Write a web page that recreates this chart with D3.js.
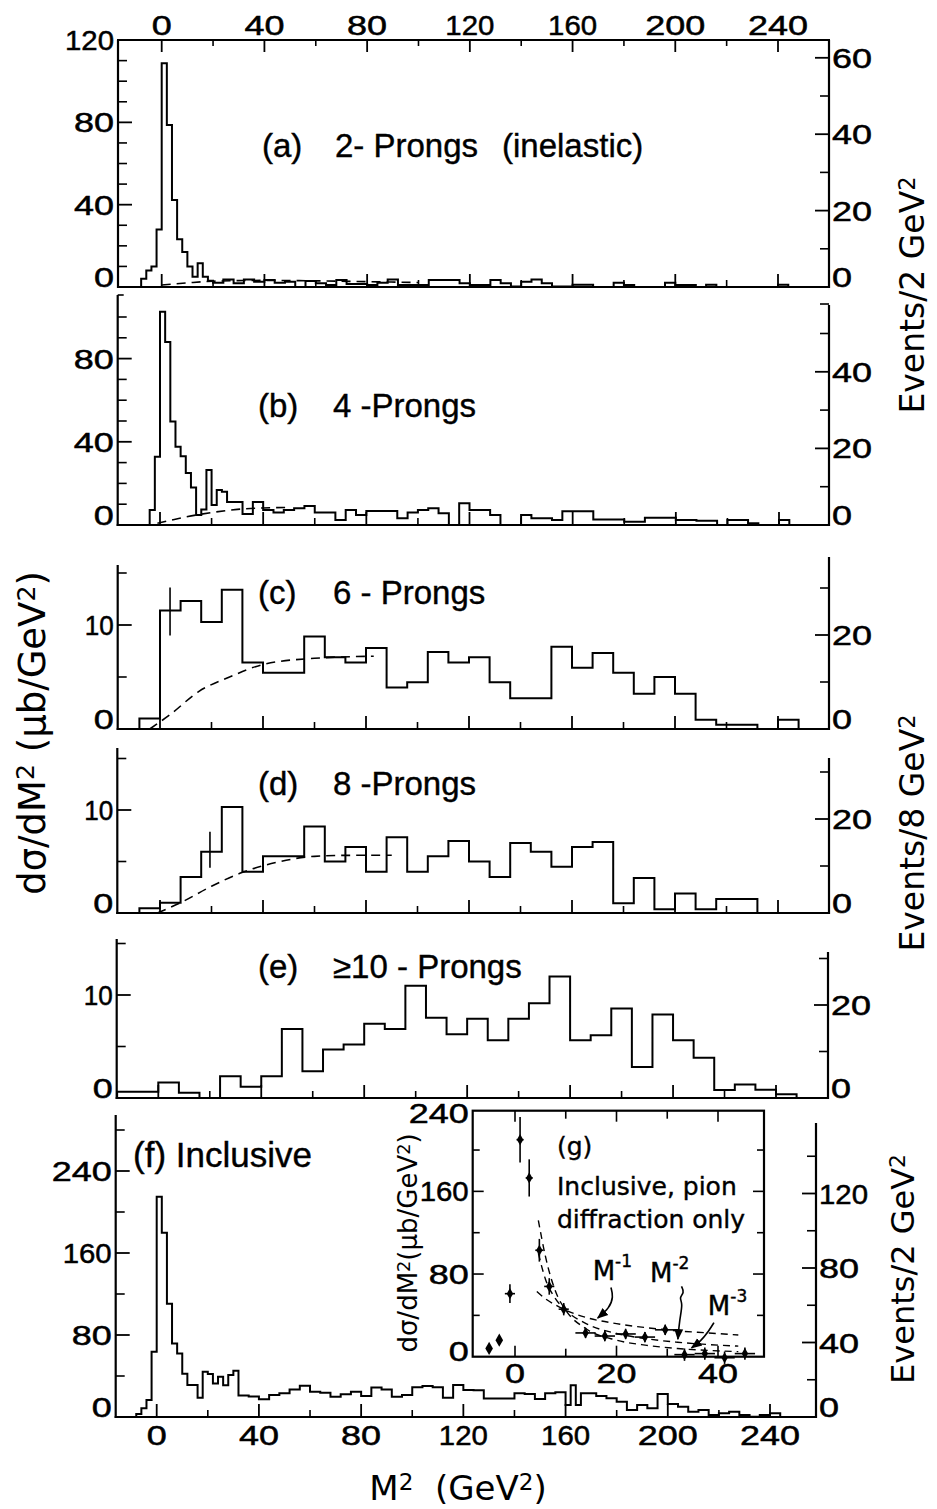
<!DOCTYPE html>
<html><head><meta charset="utf-8">
<script src="https://cdn.jsdelivr.net/npm/d3@7/dist/d3.min.js"></script>
<style>
html,body{margin:0;padding:0;background:#fff;}
svg{display:block;}
</style></head>
<body><svg id="chart" width="937" height="1509" viewBox="0 0 937 1509"></svg>
<script>
// ---------------- DATA ----------------
const xMajorTicks = [0, 40, 80, 120, 160, 200, 240];
const xMinorTicks = [20, 60, 100, 140, 180, 220];

// (a) 2-prongs (inelastic): bin edges (GeV^2) and dσ/dM² (μb/GeV²)
const aEdges = [-8,-6,-4,-2,0,2,4,6,8,10,12,14,16,18,20,24,28,32,36,40,44,48,52,56,60,64,68,72,80,84,88,92,104,116,120,128,132,136,140,144,148,152,160,168,176,180,184,196,200,208,212,216,240,244];
const aVals  = [4,8,10,28,108.7,78.7,42.3,23.2,17,10,5,11.5,5,3,2.1,3.7,1.8,3.7,2.6,3.4,2.1,2.6,0,2.9,1.8,1.0,3.4,1.5,1.0,2.1,3.7,1.0,3.4,1.8,1.0,3.4,1.8,0.3,2.6,3.7,1.8,0.3,1.1,0,2.1,1.0,0,2.1,1.0,0,1.1,0,1.1];
const aCurveX = [0, 10, 20, 40, 60, 80, 100];
const aCurveY = [1, 2, 2.8, 3.2, 3.0, 2.6, 2.2];

// (b) 4-prongs
const bEdges = [-4,-2,0,2,4,6,8,10,12,14,16,18,20,22,24,26,32,36,40,44,48,52,56,60,68,72,76,80,92,96,100,104,108,112,116,120,128,132,140,144,152,156,168,180,188,200,208,216,220,228,232,240,244];
const bVals  = [7.2,32.8,102.5,88,49.7,37.6,33,25,18,4.8,7.5,26.4,9.6,16.8,16,11,5.3,11,7.2,6,7.2,8,9.1,6,2.4,7.2,4.8,6.7,3.2,6,7.2,8,5.6,0,10.4,7.2,4.8,0,4.8,3.2,2.4,6.6,2.7,1.6,3.5,2.4,2.1,0,2.4,0.8,0,2.4];
const bCurveX = [-1, 5, 14, 20, 30, 40, 50];
const bCurveY = [0.8, 2.5, 4.8, 6.0, 7.5, 8.2, 8.4];

// (c) 6-prongs
const cEdges = [-8,0,8,16,24,32,40,48,56,64,72,80,88,96,104,112,120,128,136,144,152,160,168,176,184,192,200,208,216,224,232,240,248];
const cVals  = [1.0,11.4,12.3,10.3,13.4,6.4,5.4,5.4,8.9,6.9,6.4,7.8,4.0,4.5,7.4,6.4,6.9,4.5,2.95,2.95,7.9,5.9,7.3,5.4,3.4,5.0,3.4,0.9,0.4,0.4,0,0.9];
const cCurveX = [-4, 4, 15, 27, 40, 60, 83];
const cCurveY = [0, 1.4, 3.6, 5.0, 6.2, 6.8, 7.0];
const cErrX = [3.9], cErrLo = [9.0], cErrHi = [13.6];

// (d) 8-prongs
const dEdges = [-8,0,8,16,24,32,40,48,56,64,72,80,88,96,104,112,120,128,136,144,152,160,168,176,184,192,200,208,216,224,232];
const dVals  = [0.45,1.0,3.5,5.95,10.3,4.0,5.5,5.5,8.4,5.0,6.4,4.0,7.35,4.0,5.5,7.0,5.0,3.5,6.8,5.95,4.5,6.4,6.9,0.94,3.4,0.36,1.9,0.36,1.36,1.36];
const dCurveX = [-1, 8, 20, 31, 45, 60, 75, 90];
const dCurveY = [0, 1.0, 2.6, 3.85, 4.9, 5.5, 5.6, 5.6];
const dErrX = [19.4], dErrLo = [4.4], dErrHi = [7.9];

// (e) >=10-prongs
const eEdges = [-16,0,8,16,24,32,40,48,56,64,72,80,88,96,104,112,120,128,136,144,152,160,168,176,184,192,200,208,216,224,232,240,248];
const eVals  = [0.6,1.5,0.5,0,2.1,1.1,2.1,6.7,2.6,4.7,5.2,7.2,6.7,10.9,7.8,6.2,7.7,5.6,7.7,9.2,11.8,5.6,6.1,8.7,3.0,8.1,5.6,3.9,0.78,1.3,0.8,0.36];

// (f) inclusive
const fEdges = [-8,-6,-4,-2,0,2,4,6,8,10,12,14,16,18,20,22,24,26,28,30,32,
  36,40,44,48,52,56,60,64,68,72,76,80,84,88,92,96,100,104,108,112,116,120,124,128,
  140,144,148,152,156,160,162,164,166,172,176,180,184,188,192,196,200,204,208,212,216,220,224,228,232,236,240,244];
const fVals  = [3,8.5,16.6,63.7,214.9,179.8,110.6,71.6,61.9,42.3,31.2,31.2,18.9,44.2,42,32.8,39.3,31,41,45.2,
  21,20,17.2,21.5,23.1,26.9,30.6,24.7,23.7,19.8,22.2,24.7,20.5,28.9,26.9,19.8,21.5,29,30.2,29,18.9,31.2,26.3,26,
  18,23.1,22.4,17.6,23.1,24.1,11.7,31,11.7,23.1,20.5,18.2,15,6.8,11.7,8.5,22.4,12.7,10.1,5.2,6.8,2,3.6,5.2,2,0.3,2,3.6];

// (g) inset: inclusive, pion diffraction only
const gX    = [-5.1,-3.1,-1.0,1.0,2.8,4.8,6.75,9.6,13.9,17.7,21.8,25.6,29.6,33.4,37.4,41.3,45.3];
const gY    = [8,16,61,210,173,103,68,46,23,20,22,19,26,2,3,-1,3];
const gYerr = [0,0,9,22,18,11,8,6,5,5,5,5,5,6,6,6,6];
const gXerr = [0,0,1,0.7,0.7,0.8,1,1,2,2,2,2,2,2,2,2,2];
const gM1X = [4.3,6,8,10,14,20,26,32,38,44];
const gM1Y = [63,56,50,45,38,32,28,25,23,21];
const gM2X = [4.6,6,8,10,14,20,26,32,38,44];
const gM2Y = [100,75,56,45,32,22.5,17.3,14,11.8,10.2];
const gM3X = [4.6,6,8,10,14,20,26,32,38,44];
const gM3Y = [132,97,63,45,27,16,11,7.9,6.1,4.9];
const gXTicks = [0,10,20,30,40];
const gXLabels = [0,20,40];
const gYTicks = [0,40,80,120,160,200,240];
const gYLabels = [0,80,160,240];

// ---------------- DRAWING ----------------
const svg = d3.select('#chart');
svg.append('rect').attr('width',937).attr('height',1509).attr('fill','#fff');
const NUMFONT = '"Liberation Sans", Arial, sans-serif';
const TXTFONT = '"DejaVu Sans", sans-serif';

function numWidth(s){ let w=0; for(const ch of String(s)) w += (ch==='1'?9:20); return w; }
function numText(g, x, y, s, anchor, size){
  const t = g.append('text').attr('x',x).attr('y',y).text(s)
    .attr('font-family',NUMFONT).attr('font-size',size||28).attr('text-anchor',anchor||'middle')
    .attr('fill','#000').attr('stroke','#000').attr('stroke-width',0.5);
  t.attr('textLength', numWidth(s)).attr('lengthAdjust','spacingAndGlyphs');
  return t;
}
function ln(g,x1,y1,x2,y2,w){ return g.append('line').attr('x1',x1).attr('y1',y1).attr('x2',x2).attr('y2',y2).attr('stroke','#000').attr('stroke-width',w||2); }
// rich text: parts = array of [string, isSuperscript]
function rich(t, parts){
  let up = false;
  parts.forEach(([s, sup])=>{
    const ts = t.append('tspan').text(s);
    if(sup && !up){ ts.attr('dy','-0.42em').attr('font-size','0.68em'); up = true; }
    else if(sup){ ts.attr('font-size','0.68em'); }
    else if(!sup && up){ ts.attr('dy','0.29em'); up = false; }
  });
  return t;
}

const layout = {
  a:{topL:40,topR:40,bottom:287,left:118,right:829,x0:161.7,x240:778,kL:2.058,kR:3.82,
     lMaj:[0,40,80,120],lMin:[10,20,30,50,60,70,90,100,110],rMaj:[0,20,40,60],rMin:[10,30,50],fs:28},
  b:{topL:295,topR:305,bottom:525,left:117.7,right:829,x0:160,x240:779,kL:2.08,kR:3.83,
     lMaj:[0,40,80],lMin:[10,20,30,50,60,70,90,100,110],rMaj:[0,20,40],rMin:[10,30,50,57.7],fs:28},
  c:{topL:565,topR:557,bottom:729,left:117.7,right:829,x0:160,x240:778,kL:10.4,kR:4.7,
     lMaj:[0,10],lMin:[5,15],rMaj:[0,20],rMin:[10,30],fs:28},
  d:{topL:748,topR:758,bottom:913,left:117.3,right:829,x0:160,x240:778,kL:10.3,kR:4.7,
     lMaj:[0,10],lMin:[5,15],rMaj:[0,20],rMin:[10,30],fs:27},
  e:{topL:939,topR:952,bottom:1098,left:116.7,right:828,x0:158.3,x240:776,kL:10.3,kR:4.65,
     lMaj:[0,10],lMin:[5,15],rMaj:[0,20],rMin:[10,30],fs:27},
  f:{topL:1115,topR:1123,bottom:1417,left:115.7,right:816,x0:156.7,x240:770,kL:1.025,kR:1.8625,
     lMaj:[0,80,160,240],lMin:[40,120,200,280],rMaj:[0,40,80,120],rMin:[20,60,100,140],fs:28}
};

function drawPanel(L, edges, vals, cx, cy, errs){
  const x = d3.scaleLinear().domain([0,240]).range([L.x0, L.x240]);
  const yL = d3.scaleLinear().domain([0,100]).range([L.bottom, L.bottom-100*L.kL]);
  const yR = d3.scaleLinear().domain([0,100]).range([L.bottom, L.bottom-100*L.kR]);
  const g = svg.append('g');
  ln(g, L.left, L.topL, L.left, L.bottom+1, 2.2);
  ln(g, L.right, L.topR, L.right, L.bottom+1, 2.2);
  ln(g, L.left-1, L.bottom, L.right+1, L.bottom, 2.2);
  xMajorTicks.forEach(v=>ln(g, x(v), L.bottom, x(v), L.bottom-13, 1.8));
  xMinorTicks.forEach(v=>ln(g, x(v), L.bottom, x(v), L.bottom-7, 1.6));
  L.lMaj.forEach(v=>{ if(v>0) ln(g, L.left, yL(v), L.left+14, yL(v), 1.8);
    numText(g, L.left-4, yL(v)+(v===0?-10:0)+L.fs*0.36, v, 'end', L.fs); });
  L.lMin.forEach(v=>{ if(yL(v) > L.topL+2) ln(g, L.left, yL(v), L.left+9, yL(v), 1.6); });
  L.rMaj.forEach(v=>{ if(v>0) ln(g, L.right, yR(v), L.right-14, yR(v), 1.8);
    numText(g, L.right+3, yR(v)+(v===0?-10:0)+L.fs*0.36, v, 'start', L.fs); });
  L.rMin.forEach(v=>{ if(yR(v) >= L.topR-1) ln(g, L.right, yR(v), L.right-9, yR(v), 1.6); });
  const n = Math.min(vals.length, edges.length-1);
  const pts = [[edges[0],0]];
  for(let i=0;i<n;i++){ pts.push([edges[i],vals[i]]); pts.push([edges[i+1],vals[i]]); }
  pts.push([edges[n],0]);
  g.append('path').attr('d', d3.line().x(d=>x(d[0])).y(d=>yL(d[1]))(pts))
    .attr('fill','none').attr('stroke','#000').attr('stroke-width',2).attr('stroke-linejoin','miter');
  if(cx){
    const cp = cx.map((v,i)=>[v,cy[i]]);
    g.append('path').attr('d', d3.line().curve(d3.curveMonotoneX).x(d=>x(d[0])).y(d=>yL(d[1]))(cp))
      .attr('fill','none').attr('stroke','#000').attr('stroke-width',1.6).attr('stroke-dasharray','9,6');
  }
  if(errs){
    errs[0].forEach((xv,i)=>ln(g, x(xv), yL(errs[1][i]), x(xv), yL(errs[2][i]), 1.6));
  }
  return {x, yL, yR, g};
}

const pa = drawPanel(layout.a, aEdges, aVals, aCurveX, aCurveY);
ln(pa.g, layout.a.left-1, layout.a.topL, layout.a.right+1, layout.a.topL, 2.2);
xMajorTicks.forEach(v=>{ ln(pa.g, pa.x(v), layout.a.topL, pa.x(v), layout.a.topL+12, 1.8);
  numText(pa.g, pa.x(v), 35, v, 'middle', 28); });
xMinorTicks.forEach(v=>ln(pa.g, pa.x(v), layout.a.topL, pa.x(v), layout.a.topL+6, 1.6));

const pb = drawPanel(layout.b, bEdges, bVals, bCurveX, bCurveY);
ln(pb.g, layout.b.left, layout.b.topL, layout.b.left+6, layout.b.topL, 1.6);
const pc = drawPanel(layout.c, cEdges, cVals, cCurveX, cCurveY, [cErrX, cErrLo, cErrHi]);
const pd = drawPanel(layout.d, dEdges, dVals, dCurveX, dCurveY, [dErrX, dErrLo, dErrHi]);
const pe = drawPanel(layout.e, eEdges, eVals);
const pf = drawPanel(layout.f, fEdges, fVals);
xMajorTicks.forEach(v=>numText(pf.g, pf.x(v), 1445, v, 'middle', 28));

function label(x,y,s,size){ return svg.append('text').attr('x',x).attr('y',y).text(s)
  .attr('font-family',NUMFONT).attr('font-size',size||33).attr('fill','#000')
  .attr('stroke','#000').attr('stroke-width',0.4); }
label(262,157,'(a)'); label(335,157,'2- Prongs'); label(502,157,'(inelastic)');
label(258,417,'(b)'); label(333,417,'4 -Prongs');
label(258,604,'(c)'); label(333,604,'6 - Prongs');
label(258,795,'(d)'); label(333,795,'8 -Prongs');
label(258,978,'(e)'); label(333,978,'≥10 - Prongs');
label(133,1167,'(f) Inclusive',35);

function rotText(x,y,parts,size){ const t = svg.append('text').attr('transform',`translate(${x},${y}) rotate(-90)`)
  .attr('text-anchor','middle').attr('font-family',TXTFONT).attr('font-size',size).attr('fill','#000')
  .attr('xml:space','preserve');
  return rich(t, parts); }
rotText(45,733,[['dσ/dM',0],['2',1],[' (μb/GeV',0],['2',1],[')',0]],37);
rotText(924,295,[['Events/2 GeV',0],['2',1]],33);
rotText(924,833,[['Events/8 GeV',0],['2',1]],33);
rotText(914,1269,[['Events/2 GeV',0],['2',1]],32);
rich(svg.append('text').attr('x',458).attr('y',1500).attr('text-anchor','middle')
  .attr('font-family',TXTFONT).attr('font-size',34).attr('fill','#000').attr('xml:space','preserve'),
  [['M',0],['2',1],['  (GeV',0],['2',1],[')',0]]);

// ---------------- INSET (g) ----------------
const gx = d3.scaleLinear().domain([0,40]).range([515,718]);
const gy = d3.scaleLinear().domain([0,240]).range([1356.7,1108.7]);
const ig = svg.append('g');
const fx0 = 472.7, fx1 = 764, fy0 = 1110.7, fy1 = 1356.7;
ig.append('rect').attr('x',fx0).attr('y',fy0).attr('width',fx1-fx0).attr('height',fy1-fy0)
  .attr('fill','#fff').attr('stroke','#000').attr('stroke-width',2.2);
gXTicks.forEach(v=>{ const L = gXLabels.includes(v)?11:8;
  ln(ig, gx(v), fy1, gx(v), fy1-L, 1.6); ln(ig, gx(v), fy0, gx(v), fy0+L, 1.6); });
gYTicks.forEach(v=>{ if(v===0||v===240) return; const L = gYLabels.includes(v)?11:7;
  ln(ig, fx0, gy(v), fx0+L, gy(v), 1.6); ln(ig, fx1, gy(v), fx1-L, gy(v), 1.6); });
gYLabels.forEach(v=>numText(ig, fx0-4, gy(v)+10+(v===0?-6:0)+(v===240?4:0), v, 'end', 28));
gXLabels.forEach(v=>numText(ig, gx(v), 1383, v, 'middle', 28));
[[gM1X,gM1Y],[gM2X,gM2Y],[gM3X,gM3Y]].forEach(([cx,cy])=>{
  ig.append('path').attr('d', d3.line().curve(d3.curveMonotoneX).x(d=>gx(d[0])).y(d=>gy(d[1]))(cx.map((v,i)=>[v,cy[i]])))
    .attr('fill','none').attr('stroke','#000').attr('stroke-width',1.4).attr('stroke-dasharray','7,5');
});
gX.forEach((xv,i)=>{
  const px = gx(xv), py = gy(gY[i]);
  if(gYerr[i]>0) ln(ig, px, gy(gY[i]-gYerr[i]), px, gy(gY[i]+gYerr[i]), 1.6);
  if(gXerr[i]>0) ln(ig, gx(xv-gXerr[i]), py, gx(xv+gXerr[i]), py, 1.6);
  ig.append('path').attr('transform',`translate(${px},${py})`)
    .attr('d', d3.symbol().type(d3.symbolDiamond).size(i<2?50:36)()).attr('fill','#000');
});
function itext(x,y,s,size){ return ig.append('text').attr('x',x).attr('y',y).text(s)
  .attr('font-family',TXTFONT).attr('font-size',size||25).attr('fill','#000')
  .attr('stroke','#000').attr('stroke-width',0.4); }
itext(557,1155,'(g)');
itext(557,1195,'Inclusive, pion');
itext(557,1228,'diffraction only');
function mlabel(xv,yv,sup){ const t = ig.append('text').attr('x',gx(xv)).attr('y',gy(yv))
  .attr('font-family',TXTFONT).attr('font-size',26).attr('fill','#000').attr('stroke','#000').attr('stroke-width',0.4);
  t.append('tspan').text('M'); t.append('tspan').attr('dy',-13).attr('font-size',17).text(sup); }
mlabel(15.3,74,'-1'); mlabel(26.6,72.5,'-2'); mlabel(38,40.5,'-3');
const defs = svg.append('defs');
defs.append('marker').attr('id','ah').attr('viewBox','0 0 10 10').attr('refX',9).attr('refY',5)
  .attr('markerWidth',7).attr('markerHeight',7).attr('orient','auto')
  .append('path').attr('d','M0,1 L10,5 L0,9 Z').attr('fill','#000');
const arrowLines = [
  [[18.9,67],[19.4,58],[18.6,47],[16.3,37.5]],
  [[32.8,68],[33.4,62],[32.3,57],[33.1,52],[32.4,35],[32.1,17]],
  [[39.2,33],[38.2,25],[36.6,15],[34.8,8.6]]
];
arrowLines.forEach(a=>{
  ig.append('path').attr('d', d3.line().curve(d3.curveBasis).x(d=>gx(d[0])).y(d=>gy(d[1]))(a))
    .attr('fill','none').attr('stroke','#000').attr('stroke-width',1.6).attr('marker-end','url(#ah)');
});
const it = svg.append('text').attr('transform','translate(417,1243) rotate(-90)')
  .attr('text-anchor','middle').attr('font-family',TXTFONT).attr('font-size',26).attr('fill','#000');
rich(it, [['dσ/dM',0],['2',1],['(μb/GeV',0],['2',1],[')',0]]);
</script>
</body></html>
